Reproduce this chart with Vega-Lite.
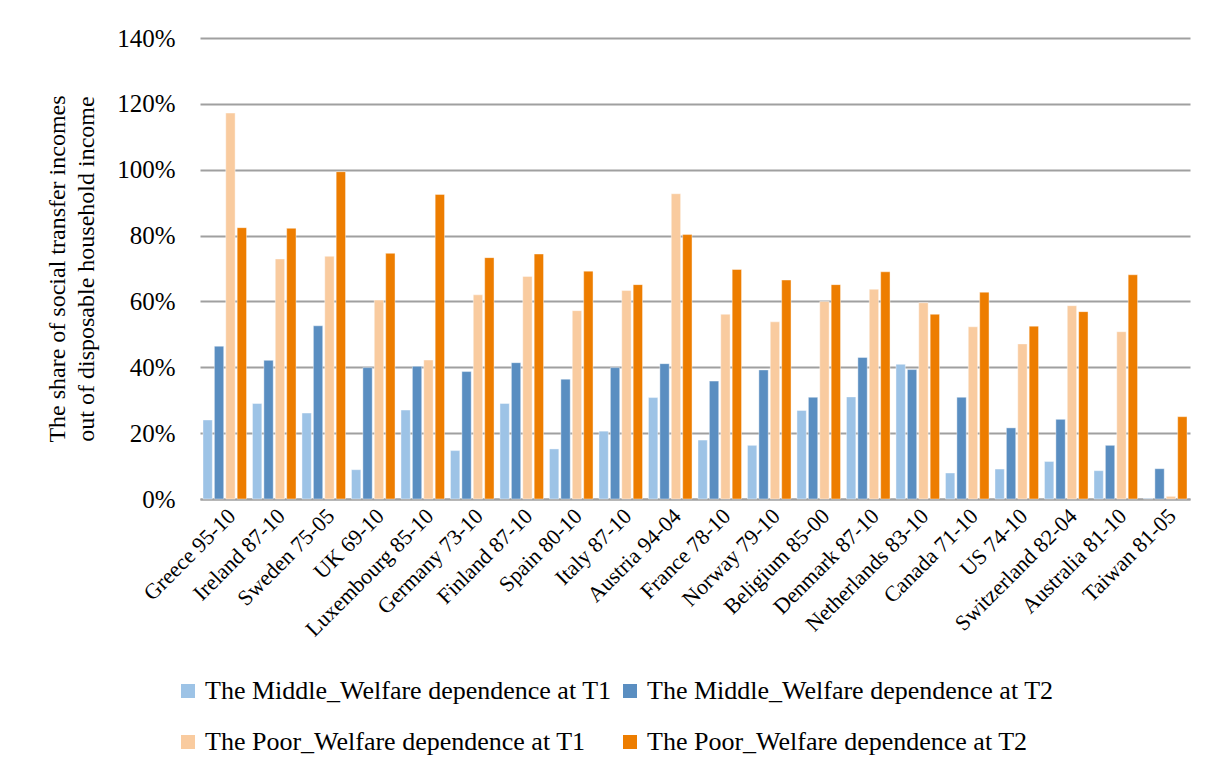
{
  "$schema": "https://vega.github.io/schema/vega-lite/v6.json",
  "autosize": "none",
  "width": 990,
  "height": 461,
  "padding": {"left": 200, "top": 38, "right": 35, "bottom": 284},
  "background": "white",
  "config": {
    "font": "Liberation Serif",
    "view": {"stroke": null}
  },
  "datasets": {
    "rows": [
      {"c": "Greece 95-10", "mt1": 24.0, "mt2": 46.4, "pt1": 117.2, "pt2": 82.4},
      {"c": "Ireland 87-10", "mt1": 29.0, "mt2": 42.1, "pt1": 72.9, "pt2": 82.2},
      {"c": "Sweden 75-05", "mt1": 26.1, "mt2": 52.6, "pt1": 73.7, "pt2": 99.4},
      {"c": "UK 69-10", "mt1": 8.9, "mt2": 39.9, "pt1": 60.4, "pt2": 74.6},
      {"c": "Luxembourg 85-10", "mt1": 27.0, "mt2": 40.3, "pt1": 42.2, "pt2": 92.5},
      {"c": "Germany 73-10", "mt1": 14.7, "mt2": 38.7, "pt1": 62.0, "pt2": 73.3},
      {"c": "Finland 87-10", "mt1": 29.0, "mt2": 41.4, "pt1": 67.6, "pt2": 74.4},
      {"c": "Spain 80-10", "mt1": 15.2, "mt2": 36.4, "pt1": 57.2, "pt2": 69.2},
      {"c": "Italy 87-10", "mt1": 20.6, "mt2": 39.9, "pt1": 63.3, "pt2": 65.1},
      {"c": "Austria 94-04", "mt1": 30.8, "mt2": 41.1, "pt1": 92.7, "pt2": 80.3},
      {"c": "France 78-10", "mt1": 17.9, "mt2": 35.8, "pt1": 56.1, "pt2": 69.7},
      {"c": "Norway 79-10", "mt1": 16.3, "mt2": 39.2, "pt1": 53.8, "pt2": 66.5},
      {"c": "Beligium 85-00", "mt1": 26.9, "mt2": 30.9, "pt1": 60.0, "pt2": 65.1},
      {"c": "Denmark 87-10", "mt1": 31.0, "mt2": 43.0, "pt1": 63.7, "pt2": 69.0},
      {"c": "Netherlands 83-10", "mt1": 40.9, "mt2": 39.3, "pt1": 59.6, "pt2": 56.1},
      {"c": "Canada 71-10", "mt1": 7.9, "mt2": 30.9, "pt1": 52.3, "pt2": 62.8},
      {"c": "US 74-10", "mt1": 9.1, "mt2": 21.6, "pt1": 47.1, "pt2": 52.5},
      {"c": "Switzerland 82-04", "mt1": 11.4, "mt2": 24.2, "pt1": 58.7, "pt2": 56.9},
      {"c": "Australia 81-10", "mt1": 8.6, "mt2": 16.3, "pt1": 50.8, "pt2": 68.1},
      {"c": "Taiwan 81-05", "mt1": 0.2, "mt2": 9.2, "pt1": 0.8, "pt2": 25.0}
    ]
  },
  "data": {"name": "rows"},
  "transform": [
    {"fold": ["mt1", "mt2", "pt1", "pt2"], "as": ["key", "pct"]},
    {"lookup": "key", "from": {"data": {"values": [
      {"key": "mt1", "series": "The Middle_Welfare dependence at T1"},
      {"key": "mt2", "series": "The Middle_Welfare dependence at T2"},
      {"key": "pt1", "series": "The Poor_Welfare dependence at T1"},
      {"key": "pt2", "series": "The Poor_Welfare dependence at T2"}
    ]}, "key": "key", "fields": ["series"]}},
    {"calculate": "datum.pct / 100", "as": "share"}
  ],
  "mark": {"type": "bar", "stroke": "white", "strokeWidth": 0.6, "strokeOpacity": 0.7},
  "encoding": {
    "x": {
      "field": "c", "type": "nominal", "sort": null,
      "scale": {"paddingInner": 0.12, "paddingOuter": 0.06},
      "axis": {
        "title": null, "labelAngle": -45, "labelFontSize": 22, "labelColor": "black",
        "labelFont": "Liberation Serif", "ticks": false, "domainColor": "#A0A0A0",
        "domainWidth": 2, "labelPadding": 6, "labelLimit": 300
      }
    },
    "xOffset": {"field": "series", "type": "nominal", "scale": {"paddingInner": 0.18}},
    "y": {
      "field": "share", "type": "quantitative",
      "scale": {"domain": [0, 1.4], "nice": false},
      "axis": {
        "format": ".0%", "values": [0, 0.2, 0.4, 0.6, 0.8, 1.0, 1.2, 1.4],
        "title": ["The share of social transfer incomes", "out of disposable household income"],
        "titleFontSize": 24, "titleFontWeight": "normal", "titleColor": "black",
        "titleFont": "Liberation Serif", "titlePadding": 18, "titleLineHeight": 29,
        "labelFontSize": 25, "labelColor": "black", "labelFont": "Liberation Serif",
        "labelPadding": 25,
        "ticks": false, "domain": false, "grid": true, "gridColor": "#A0A0A0", "gridWidth": 2
      }
    },
    "color": {
      "field": "series", "type": "nominal",
      "scale": {
        "domain": ["The Middle_Welfare dependence at T1", "The Middle_Welfare dependence at T2", "The Poor_Welfare dependence at T1", "The Poor_Welfare dependence at T2"],
        "range": ["#9DC3E6", "#5A8EC1", "#F9CB9F", "#ED7D00"]
      },
      "legend": {
        "title": null, "orient": "none", "legendX": -25, "legendY": 640, "direction": "horizontal",
        "columns": 2, "symbolType": "square", "symbolSize": 196, "symbolStrokeWidth": 0,
        "labelFontSize": 26, "labelFont": "Liberation Serif", "labelColor": "black",
        "rowPadding": 25, "columnPadding": 5, "labelOffset": 4, "labelLimit": 500
      }
    }
  }
}
